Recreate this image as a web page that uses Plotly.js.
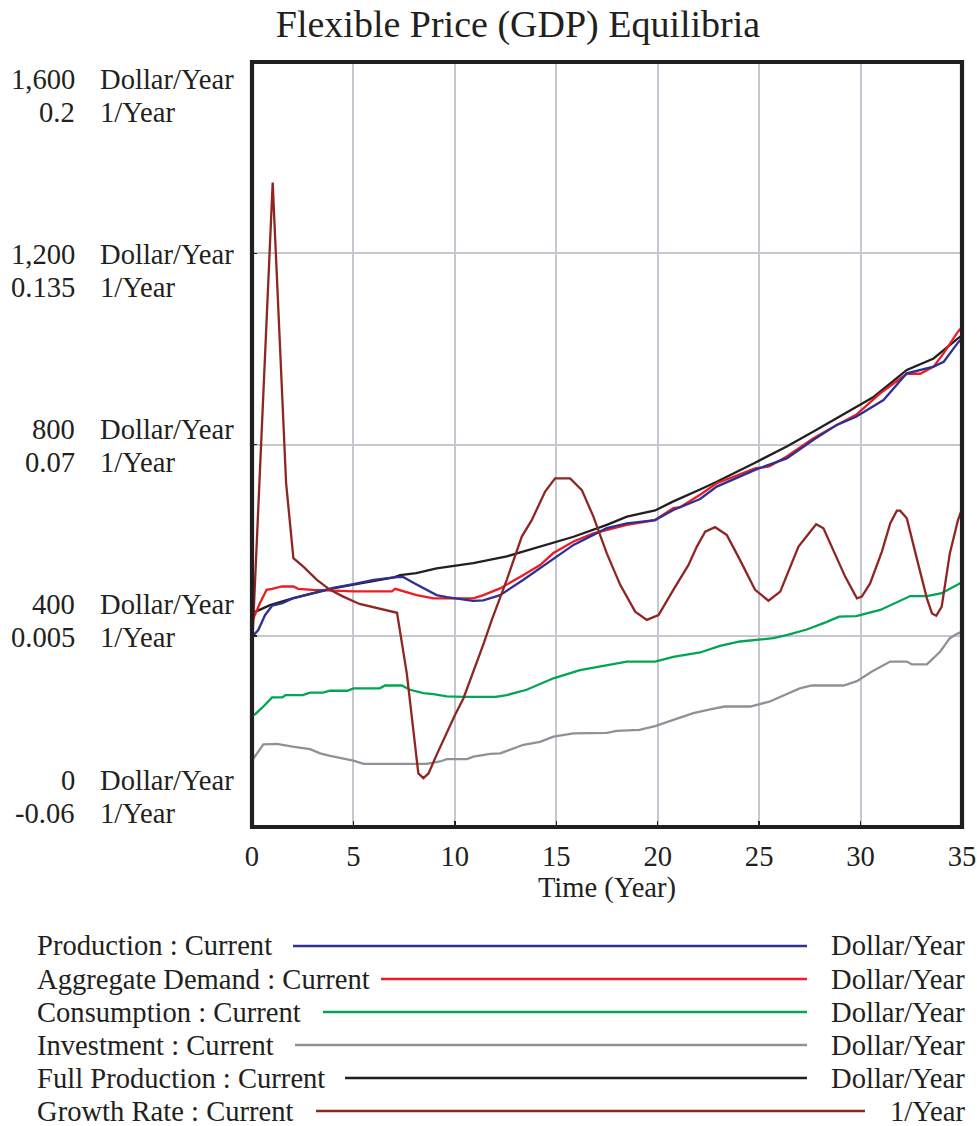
<!DOCTYPE html>
<html>
<head>
<meta charset="utf-8">
<script src="https://cdn.plot.ly/plotly-3.0.1.min.js"></script>
<style>html,body{margin:0;padding:0;background:#fff;}#chart{width:977px;height:1126px;}</style>
</head>
<body>
<div id="chart"></div>
<script>
// ---------------- DATA ----------------
const seriesNames = ['Production', 'Aggregate Demand', 'Consumption', 'Investment', 'Full Production', 'Growth Rate'];
const seriesUnits = ['Dollar/Year', 'Dollar/Year', 'Dollar/Year', 'Dollar/Year', 'Dollar/Year', '1/Year'];

const prodT = [0, 0.31, 0.64, 1.0, 1.5, 2, 3, 4, 5, 6, 7, 7.45, 8, 8.6, 9.1, 9.6, 10.2, 10.9, 11.4, 11.74, 12.23, 13.38, 14.2, 14.86, 15.85, 16.83, 17.49, 18.48, 19.87, 20.77, 22.09, 22.91, 24.8, 26.36, 27.68, 28.83, 29.78, 31.13, 32.28, 33.6, 34.1, 34.8, 35];
const prodV = [398, 412, 443, 463, 468, 478, 489, 500, 508, 517, 522, 523, 510, 497, 485, 481, 477, 473, 474, 478, 485, 517, 541, 562, 590, 611, 625, 635, 642, 663, 686, 712, 747, 771, 810, 841, 858, 893, 949, 963, 973, 1013, 1022];

const demandT = [0, 0.39, 0.72, 1.0, 1.47, 2.04, 2.28, 3, 5, 6.9, 7.05, 7.46, 8.12, 8.94, 9.27, 10.91, 11.41, 12.23, 13.38, 14.2, 14.86, 15.85, 16.83, 17.49, 18.48, 19.87, 20.77, 21.1, 22.09, 22.91, 24.8, 25.5, 26.36, 27.68, 28.83, 29.78, 30.97, 32.28, 32.94, 33.6, 34.1, 34.8, 35];
const demandV = [429, 468, 496, 498, 503, 503, 498, 496, 493, 493, 498, 493, 485, 478, 478, 478, 485, 499, 527, 548, 573, 597, 614, 621, 632, 642, 667, 669, 695, 719, 750, 754, 775, 813, 841, 862, 907, 948, 948, 963, 991, 1036, 1045];

const consT = [0, 0.16, 0.56, 0.99, 1.5, 1.65, 2.5, 2.86, 3.5, 3.85, 4.7, 5.0, 6.3, 6.56, 7.38, 7.79, 8.45, 8.94, 9.6, 10.4, 12.0, 12.56, 13.54, 14.86, 16.17, 17.49, 18.48, 19.87, 20.77, 22.09, 23.07, 24.06, 24.9, 25.7, 26.4, 27.35, 28.34, 28.94, 29.78, 30.97, 32.45, 33.27, 34.0, 34.8, 35];
const consV = [234, 236, 252, 271, 271, 276, 276, 281, 281, 285, 285, 290, 290, 296, 296, 287, 280, 278, 273, 272, 272, 276, 287, 311, 328, 339, 346, 346, 356, 365, 379, 388, 391, 395, 402, 413, 429, 440, 441, 454, 483, 483, 489, 508, 512];

const invT = [0, 0.56, 1.22, 2.0, 2.86, 3.36, 3.85, 5.0, 5.5, 8.6, 9.27, 9.6, 10.6, 10.91, 11.74, 12.23, 13.38, 14.2, 14.86, 15.85, 17.49, 17.98, 19.1, 19.87, 20.77, 21.76, 22.58, 23.3, 24.56, 25.5, 27.0, 27.6, 29.16, 29.82, 30.56, 31.46, 32.28, 32.53, 33.27, 33.93, 34.4, 34.8, 35];
const invV = [139, 173, 174, 168, 163, 154, 149, 139, 132, 132, 137, 142, 142, 147, 153, 154, 172, 178, 189, 196, 197, 201, 203, 211, 224, 238, 246, 252, 252, 262, 290, 296, 296, 305, 325, 346, 346, 340, 340, 367, 395, 405, 408];

const fullT = [0, 0.89, 2, 3, 4, 5, 6, 7, 7.3, 8.1, 9.1, 9.76, 10.91, 12.56, 14.2, 15.85, 17.49, 18.48, 19.87, 20.77, 22.09, 22.91, 24.8, 26.36, 27.68, 28.83, 29.78, 30.66, 32.28, 33.6, 34.8, 35];
const fullV = [447, 464, 478, 488, 499, 507, 515, 522, 527, 531, 541, 545, 552, 566, 586, 607, 632, 649, 662, 681, 706, 722, 762, 796, 827, 855, 878, 900, 956, 980, 1022, 1028];

const growthT = [0, 1.02, 1.68, 2.04, 2.53, 3.2, 3.85, 4.5, 5.3, 6.1, 6.8, 7.15, 7.63, 7.95, 8.2, 8.45, 8.7, 9.1, 9.6, 10.0, 10.42, 10.9, 11.4, 11.82, 12.56, 13.3, 13.79, 14.45, 14.94, 15.68, 16.26, 16.83, 17.49, 18.15, 18.89, 19.46, 20.04, 20.77, 21.51, 21.93, 22.34, 22.83, 23.41, 24.06, 24.8, 25.46, 26.04, 26.94, 27.35, 27.81, 28.17, 28.67, 29.24, 29.82, 30.06, 30.47, 31.05, 31.46, 31.79, 31.95, 32.28, 32.77, 33.27, 33.52, 33.73, 34.0, 34.4, 34.8, 35];
const growthV = [0.0, 0.159, 0.057, 0.0314, 0.0285, 0.024, 0.0206, 0.0183, 0.0158, 0.0145, 0.0132, 0.0128, -0.0078, -0.027, -0.0418, -0.0434, -0.0418, -0.0355, -0.0278, -0.022, -0.0163, -0.0075, 0.002, 0.0104, 0.024, 0.0387, 0.0443, 0.054, 0.0585, 0.0585, 0.0545, 0.0455, 0.033, 0.0223, 0.0132, 0.0104, 0.012, 0.0206, 0.029, 0.0353, 0.0404, 0.0419, 0.0392, 0.0307, 0.0206, 0.0169, 0.02, 0.0353, 0.0387, 0.0429, 0.0415, 0.0341, 0.0251, 0.0177, 0.0183, 0.0228, 0.0336, 0.0432, 0.0475, 0.0475, 0.0449, 0.0313, 0.0177, 0.0126, 0.0118, 0.0149, 0.033, 0.0443, 0.048];

const xTickVals = [0, 5, 10, 15, 20, 25, 30, 35];
const xTickLabels = ['0', '5', '10', '15', '20', '25', '30', '35'];
const dollarTickVals = [0, 400, 800, 1200, 1600];
const dollarTickLabels = ['0', '400', '800', '1,200', '1,600'];
const rateTickLabels = ['-0.06', '0.005', '0.07', '0.135', '0.2'];

// ---------------- STYLE / LAYOUT ----------------
const colors = ['#2e3192', '#ed1c24', '#00a651', '#8d9297', '#231f20', '#8e2622'];
const FONT = 'Liberation Serif, Times New Roman, serif';
const INK = '#231f20';
const W = 977, H = 1126;
const M = {l: 252, r: 15, t: 62, b: 299};
const px2x = px => (px - M.l) / (W - M.l - M.r);
const py2y = py => (H - M.b - py) / (H - M.t - M.b);

const seriesT = [prodT, demandT, consT, invT, fullT, growthT];
const seriesV = [prodV, demandV, consV, invV, fullV, growthV];

const traces = [];
for (let i = seriesNames.length - 1; i >= 0; i--) {
  traces.push({
    type: 'scatter', mode: 'lines',
    x: seriesT[i], y: seriesV[i],
    yaxis: i === 5 ? 'y2' : 'y',
    name: seriesNames[i],
    line: {color: colors[i], width: 2.3},
    hoverinfo: 'skip'
  });
}

const annotations = [];
const shapes = [];
const FS = 28.6;

// y-axis stacked labels (Vensim style)
const rowTop = 79, rowBottom = 780, rowGap = 33;
for (let k = 0; k < dollarTickLabels.length; k++) {
  const yD = rowBottom - k * (rowBottom - rowTop) / (dollarTickLabels.length - 1);
  const yR = yD + rowGap;
  const f = {family: FONT, size: FS, color: INK};
  annotations.push({xref: 'paper', yref: 'paper', x: px2x(77), y: py2y(yD), xanchor: 'right', yanchor: 'middle', text: dollarTickLabels[k], showarrow: false, font: f});
  annotations.push({xref: 'paper', yref: 'paper', x: px2x(98), y: py2y(yD), xanchor: 'left', yanchor: 'middle', text: 'Dollar/Year', showarrow: false, font: f});
  annotations.push({xref: 'paper', yref: 'paper', x: px2x(77), y: py2y(yR), xanchor: 'right', yanchor: 'middle', text: rateTickLabels[k], showarrow: false, font: f});
  annotations.push({xref: 'paper', yref: 'paper', x: px2x(98), y: py2y(yR), xanchor: 'left', yanchor: 'middle', text: '1/Year', showarrow: false, font: f});
}

// legend drawn below
const legTop = 946, legGap = 33;
const legLineStart = [293, 381, 323, 295, 345, 316];
for (let i = 0; i < seriesNames.length; i++) {
  const yy = legTop + i * legGap;
  annotations.push({xref: 'paper', yref: 'paper', x: px2x(35), y: py2y(yy), xanchor: 'left', yanchor: 'middle',
    text: seriesNames[i] + ' : Current', showarrow: false, font: {family: FONT, size: FS, color: INK}});
  annotations.push({xref: 'paper', yref: 'paper', x: px2x(967), y: py2y(yy), xanchor: 'right', yanchor: 'middle',
    text: seriesUnits[i], showarrow: false, font: {family: FONT, size: FS, color: INK}});
  const end = seriesUnits[i] === '1/Year' ? 865 : 807;
  shapes.push({type: 'line', xref: 'paper', yref: 'paper', x0: px2x(legLineStart[i]), x1: px2x(end), y0: py2y(yy), y1: py2y(yy),
    line: {color: colors[i], width: 2.3}});
}

// frame
shapes.push({type: 'rect', xref: 'paper', yref: 'paper', x0: 0, x1: 1, y0: 0, y1: 1, layer: 'above',
  line: {color: INK, width: 4.2}});

const layout = {
  width: W, height: H,
  margin: M,
  paper_bgcolor: '#fff', plot_bgcolor: '#fff',
  showlegend: false,
  title: {text: 'Flexible Price (GDP) Equilibria', font: {family: FONT, size: 38, color: INK},
    xref: 'container', yref: 'container', x: 518 / W, xanchor: 'center', y: 1 - 24 / H, yanchor: 'middle'},
  xaxis: {
    range: [0, 35], tickvals: xTickVals, ticktext: xTickLabels,
    showgrid: true, gridcolor: '#c5c8d0', gridwidth: 2, zeroline: false, showline: false,
    ticks: 'inside', ticklen: 6, tickwidth: 1.5, tickcolor: INK,
    ticklabelstandoff: 9,
    tickfont: {family: FONT, size: FS, color: INK},
    title: {text: 'Time (Year)', font: {family: FONT, size: FS, color: INK}, standoff: 2}
  },
  yaxis: {
    range: [0, 1600], tickvals: dollarTickVals, showticklabels: false,
    showgrid: true, gridcolor: '#c5c8d0', gridwidth: 2, zeroline: false, showline: false,
    ticks: 'inside', ticklen: 5, tickwidth: 1.5, tickcolor: INK
  },
  yaxis2: {range: [-0.06, 0.2], overlaying: 'y', visible: false, showgrid: false, zeroline: false},
  annotations: annotations,
  shapes: shapes
};

Plotly.newPlot('chart', traces, layout, {staticPlot: true, displayModeBar: false});
</script>
</body>
</html>
